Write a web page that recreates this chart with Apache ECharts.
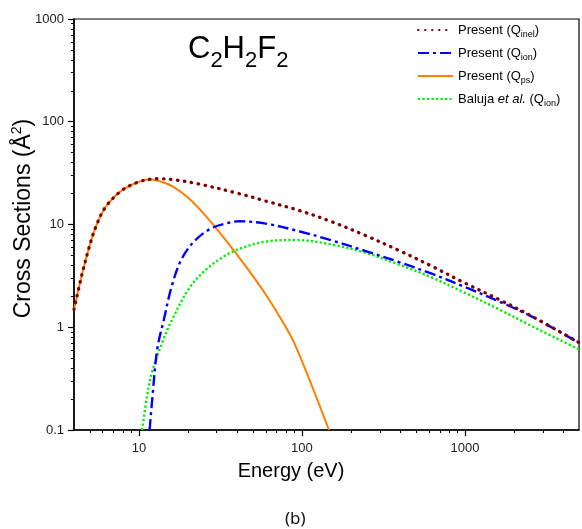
<!DOCTYPE html>
<html><head><meta charset="utf-8">
<script src="https://cdn.jsdelivr.net/npm/echarts@6/dist/echarts.min.js"></script>
<style>html,body{margin:0;padding:0;background:#fff}#c{width:582px;height:529px}</style>
</head><body><div id="c"></div>
<script>
// Present (Q_inel)
const inelE = [4, 4.49, 4.94, 5.42, 6.25, 7.9, 10, 12.07, 13.3, 16, 23.3, 41, 60, 96, 153, 246, 394, 631, 1000, 1620, 2590, 5000];
const inelQ = [1.49, 3.33, 5.9, 9.34, 14.8, 21.6, 26.0, 27.7, 27.9, 27.4, 24.8, 20.0, 16.9, 13.7, 10.6, 7.8, 5.58, 3.9, 2.69, 1.86, 1.27, 0.71];
// Present (Q_ion)
const ionE = [11.63, 12.07, 12.95, 14.23, 16, 18.4, 22.3, 28.2, 35.6, 41, 60, 96, 153, 246, 394, 631, 1000, 1620, 2590, 5000];
const ionQ = [0.1, 0.198, 0.607, 1.19, 2.6, 4.7, 7.1, 9.28, 10.4, 10.76, 10.2, 8.6, 6.98, 5.51, 4.31, 3.30, 2.46, 1.78, 1.26, 0.705];
// Present (Q_ps)
const psE = [4, 4.49, 4.94, 5.42, 6.25, 7.9, 10, 11.5, 13.3, 16, 20.3, 25.6, 32.4, 41, 47.3, 60, 75.7, 91.5, 146.5];
const psQ = [1.49, 3.33, 5.9, 9.34, 14.8, 21.6, 26.0, 27.4, 26.5, 23.6, 17.9, 12.2, 7.8, 4.82, 3.56, 2.08, 1.15, 0.656, 0.1];
// Baluja et al. (Q_ion)
const balE = [10.48, 11.24, 12.07, 13.9, 16, 20.3, 25.6, 32.4, 41, 60, 91.5, 153, 246, 394, 631, 1000, 1620, 2590, 5000];
const balQ = [0.1, 0.216, 0.371, 0.71, 1.19, 2.38, 3.6, 4.77, 5.77, 6.82, 7.06, 6.38, 5.3, 4.07, 3.03, 2.16, 1.49, 1.02, 0.61];

const xMajor = [10, 100, 1000];
const xMinor = [5, 6, 7, 8, 9, 20, 30, 40, 50, 60, 70, 80, 90, 200, 300, 400, 500, 600, 700, 800, 900, 2000, 3000, 4000];
const yMajor = [0.1, 1, 10, 100, 1000];
const yMinor = [0.2,0.3,0.4,0.5,0.6,0.7,0.8,0.9,2,3,4,5,6,7,8,9,20,30,40,50,60,70,80,90,200,300,400,500,600,700,800,900];

const legendLabels = {
  inel: 'Present (Q{s|inel})',
  ion: 'Present (Q{s|ion})',
  ps: 'Present (Q{s|ps})',
  bal: 'Baluja {i|et al.} (Q{s|ion})'
};

const zip = (a, b) => a.map((v, i) => [v, b[i]]);
const FONT = '"Liberation Sans", Arial, sans-serif';

const chart = echarts.init(document.getElementById('c'), null, {renderer: 'canvas'});
chart.setOption({
  animation: false,
  backgroundColor: '#fff',
  textStyle: {fontFamily: FONT},
  title: {
    text: '{m|C}{s|2}{m|H}{s|2}{m|F}{s|2}',
    left: 188, top: 26, padding: 0,
    textStyle: {
      fontWeight: 'normal',
      rich: {
        m: {fontSize: 31, lineHeight: 46, fontWeight: 'normal', fontFamily: FONT, color: '#000'},
        s: {fontSize: 22, lineHeight: 21, verticalAlign: 'bottom', fontWeight: 'normal', fontFamily: FONT, color: '#000'}
      }
    }
  },
  legend: {
    orient: 'vertical', left: 417, top: 21, padding: 0,
    itemWidth: 35, itemHeight: 10, itemGap: 5,
    itemStyle: {opacity: 0},
    data: ['inel', 'ion', 'ps', 'bal'],
    formatter: n => legendLabels[n],
    textStyle: {
      fontSize: 13, color: '#000', fontFamily: FONT, lineHeight: 18,
      rich: {
        s: {fontSize: 9, lineHeight: 8, verticalAlign: 'bottom', fontFamily: FONT, color: '#000'},
        i: {fontSize: 13, lineHeight: 18, fontStyle: 'italic', fontFamily: FONT, color: '#000'}
      }
    }
  },
  graphic: [{
    type: 'text', left: 285, top: 511,
    style: {text: '(b)', fontSize: 17, fontFamily: '"Noto Sans", "Open Sans", sans-serif', fill: '#111'}
  }],
  grid: {left: 74, right: 3, top: 19, bottom: 99, outerBoundsMode: 'none', containLabel: false,
    show: true, borderColor: '#000', borderWidth: 1.2, backgroundColor: 'transparent'},
  xAxis: [{
    type: 'log', logBase: 10, min: 4, max: 5000,
    name: 'Energy (eV)', nameLocation: 'middle', nameGap: 31, nameMoveOverlap: false,
    nameTextStyle: {fontSize: 20, color: '#000', fontFamily: FONT, padding: [0, 71, 0, 0]},
    axisLine: {lineStyle: {color: '#000', width: 1.5}},
    axisTick: {show: true, length: 6, lineStyle: {color: '#000', width: 1.2}, customValues: xMajor},
    axisLabel: {fontSize: 13, color: '#222', margin: 12, customValues: xMajor, formatter: v => String(v)},
    splitLine: {show: false}, minorTick: {show: false}
  }, {
    type: 'log', logBase: 10, min: 4, max: 5000, position: 'bottom',
    axisLine: {show: false},
    axisTick: {show: true, length: 3, lineStyle: {color: '#000', width: 1}, customValues: xMinor},
    axisLabel: {show: false}, splitLine: {show: false}
  }],
  yAxis: [{
    type: 'log', logBase: 10, min: 0.1, max: 1000,
    name: 'Cross Sections (Å{p|2})', nameLocation: 'middle', nameGap: 36, nameRotate: 90, nameMoveOverlap: false,
    nameTextStyle: {fontSize: 23, color: '#000', fontFamily: FONT, lineHeight: 28, padding: [0, 0, 0, 12],
      rich: {p: {fontSize: 14, lineHeight: 16, verticalAlign: 'top', fontFamily: FONT, color: '#000'}}},
    axisLine: {lineStyle: {color: '#000', width: 1.5}},
    axisTick: {show: true, length: 6, lineStyle: {color: '#000', width: 1.2}, customValues: yMajor},
    axisLabel: {fontSize: 13, color: '#222', margin: 10, customValues: yMajor, formatter: v => String(v)},
    splitLine: {show: false}, minorTick: {show: false}
  }, {
    type: 'log', logBase: 10, min: 0.1, max: 1000, position: 'left',
    axisLine: {show: false},
    axisTick: {show: true, length: 3, lineStyle: {color: '#000', width: 1}, customValues: yMinor},
    axisLabel: {show: false}, splitLine: {show: false}
  }],
  series: [{
    name: 'ps', type: 'line', data: zip(psE, psQ), smooth: 0.35, showSymbol: false, symbol: 'none', z: 2,
    lineStyle: {color: '#FF8000', width: 2}, itemStyle: {color: '#FF8000'}
  }, {
    name: 'bal', type: 'line', data: zip(balE, balQ), smooth: 0.35, showSymbol: false, symbol: 'none', z: 3,
    lineStyle: {color: '#00EE00', width: 2.4, type: [2.2, 2.3]}, itemStyle: {color: '#00EE00'}
  }, {
    name: 'ion', type: 'line', data: zip(ionE, ionQ), smooth: 0.35, showSymbol: false, symbol: 'none', z: 4,
    lineStyle: {color: '#0000FF', width: 2.4, type: [11, 4, 3, 4]}, itemStyle: {color: '#0000FF'}
  }, {
    name: 'inel', type: 'line', data: zip(inelE, inelQ), smooth: 0.35, showSymbol: false, symbol: 'none', z: 5,
    lineStyle: {color: '#800000', width: 3.3, type: [0.5, 6.5], cap: 'round'}, itemStyle: {color: '#800000'}
  }]
});
</script></body></html>
